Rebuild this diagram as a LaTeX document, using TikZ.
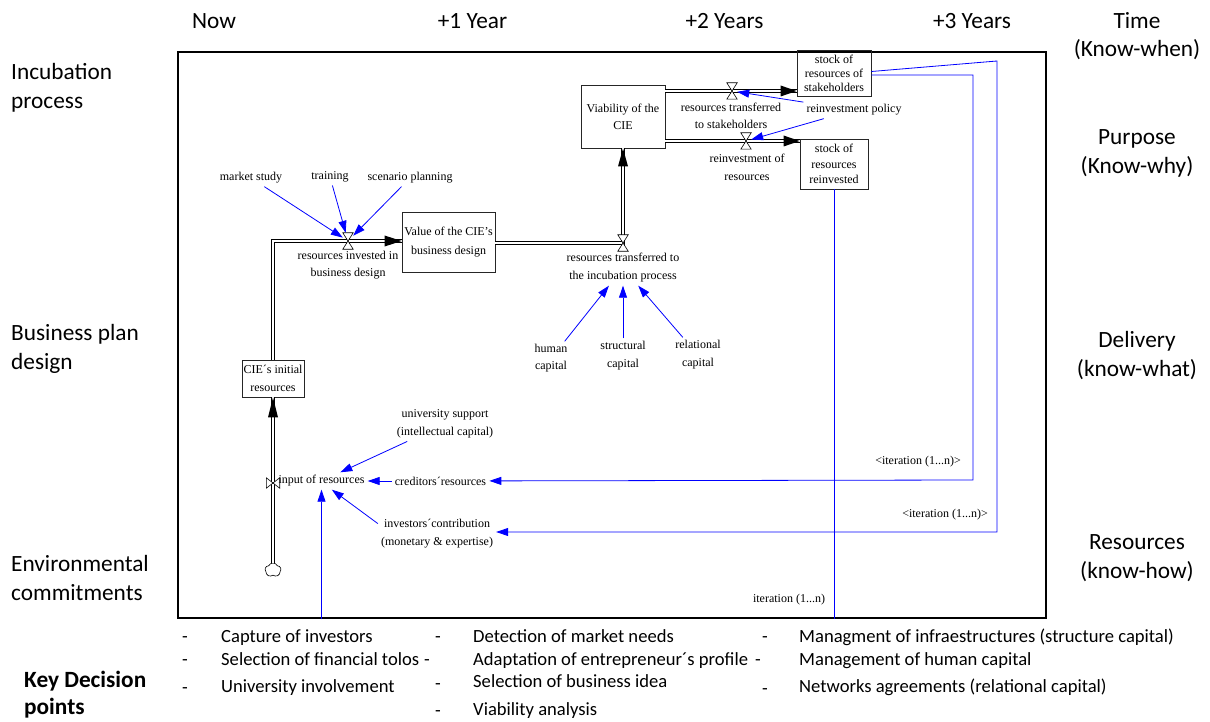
\documentclass[tikz,border=0pt]{standalone}
\usepackage{fontspec}
\setmainfont{Carlito}
\newfontfamily\vsim{Liberation Serif}
\usetikzlibrary{arrows.meta,shapes.symbols,calc}

% flow valves drawn over the pipes
\newcommand\drawhourglass[1]{\draw[valve] (#1.north west) -- (#1.north east) -- (#1.south west) -- (#1.south east) -- cycle;}
\newcommand\drawbowtie[1]{\draw[valve] (#1.north west) -- (#1.south east) -- (#1.north east) -- (#1.south west) -- cycle;}

\begin{document}
\begin{tikzpicture}[x=1pt,y=-1pt,
  hdr/.style={font=\fontsize{23.3}{28}\selectfont, inner sep=0pt},
  lst/.style={font=\fontsize{18.6}{22}\selectfont, inner sep=0pt, anchor=base west},
  lbl/.style={font=\vsim\fontsize{12}{17}\selectfont, align=center, inner sep=3pt},
  stockbox/.style={draw=black!85, line width=0.8pt, align=center, inner sep=0pt},
  pipe/.style={draw=black, line width=0.8pt, double=white, double distance=2.2pt},
  valve/.style={draw=black, fill=white, line width=0.6pt, line join=miter},
  vlv/.style={inner sep=0pt, minimum width=10pt, minimum height=16pt},
  headfill/.style={fill=black},
  infl/.style={draw=blue, line width=0.8pt, -{Triangle[length=12pt,width=8pt]}},
  iterline/.style={draw=blue, line width=0.8pt},
]
\useasboundingbox (0,0) rectangle (1210,722);

% ---- column headers ----
\node[hdr, anchor=base] (hnow) at (214,29) {Now};
\node[hdr, anchor=base] (hy1) at (472.5,29) {+1 Year};
\node[hdr, anchor=base] (hy2) at (724.5,29) {+2 Years};
\node[hdr, anchor=base] (hy3) at (972,29) {+3 Years};
\node[hdr, anchor=base] (htime) at (1137,29) {Time};
\node[hdr, anchor=base] (htime2) at (1137,57) {(Know-when)};

% ---- row labels (left) ----
\node[hdr, anchor=base west] (l1a) at (11,80) {Incubation};
\node[hdr, anchor=base west] (l1b) at (11,109) {process};
\node[hdr, anchor=base west] (l2a) at (11,340) {Business plan};
\node[hdr, anchor=base west] (l2b) at (11,369) {design};
\node[hdr, anchor=base west] (l3a) at (11,571) {Environmental};
\node[hdr, anchor=base west] (l3b) at (11,600) {commitments};

% ---- row labels (right) ----
\node[hdr, anchor=base] (r1a) at (1137,145) {Purpose};
\node[hdr, anchor=base] (r1b) at (1137,174) {(Know-why)};
\node[hdr, anchor=base] (r2a) at (1137,347) {Delivery};
\node[hdr, anchor=base] (r2b) at (1137,376) {(know-what)};
\node[hdr, anchor=base] (r3a) at (1137,549) {Resources};
\node[hdr, anchor=base] (r3b) at (1137,578) {(know-how)};

% ---- model frame ----
\node[draw, line width=2.6pt, minimum width=868pt, minimum height=566pt, inner sep=0pt] (frame) at (612,335) {};

% ---- stocks ----
\node[stockbox, minimum width=62pt, minimum height=37pt, font=\vsim\fontsize{12}{18}\selectfont] (cie) at (273,378.5) {CIE´s initial\\resources};
\node[stockbox, minimum width=93pt, minimum height=60pt, font=\vsim\fontsize{12}{19}\selectfont] (val) at (448.5,242) {Value of the CIE’s\\business design};
\node[stockbox, minimum width=84pt, minimum height=63pt, font=\vsim\fontsize{12}{17}\selectfont] (via) at (623,116.5) {Viability of the\\CIE};
\node[stockbox, minimum width=74pt, minimum height=46pt, font=\vsim\fontsize{12}{14}\selectfont] (stk) at (834,73) {stock of\\resources of\\stakeholders};
\node[stockbox, minimum width=68pt, minimum height=50pt, font=\vsim\fontsize{12}{15.5}\selectfont] (rei) at (834,164) {stock of\\resources\\reinvested};

% ---- valves and source cloud ----
\node[vlv] (v1) at (348,241) {};
\node[vlv] (v2) at (623,243) {};
\node[vlv] (v3) at (732,91) {};
\node[vlv] (v4) at (746,141) {};
\node[inner sep=0pt, minimum width=13pt, minimum height=10pt] (v0) at (273,483) {};
\node[cloud, draw, cloud puffs=5, cloud puff arc=130, aspect=1.1, minimum width=16pt, minimum height=14pt, inner sep=0pt, line width=0.6pt, fill=white] (src) at (273,570) {};

% ---- flow pipes ----
\draw[pipe] (src.north) -- (cie.south);
\draw[pipe] (cie.north) -- (cie.north |- v1) -- (val.west |- v1);
\draw[pipe] (val.east |- v2) -- (v2.center) -- (via.south);
\draw[pipe] (via.east |- v3) -- (stk.west |- v3);
\draw[pipe] (via.east |- v4) -- (rei.west |- v4);

\drawhourglass{v1}
\drawhourglass{v2}
\drawhourglass{v3}
\drawhourglass{v4}
\drawbowtie{v0}

% pipe heads
\fill[headfill] (cie.south) -- ++(-5,20) -- ++(10,0) -- cycle;
\fill[headfill] (val.west |- v1) -- ++(-17,-5.5) -- ++(0,11) -- cycle;
\fill[headfill] (via.south) -- ++(-5,18) -- ++(10,0) -- cycle;
\fill[headfill] (stk.west |- v3) -- ++(-16,-5.5) -- ++(0,11) -- cycle;
\fill[headfill] (rei.west |- v4) -- ++(-16,-5.5) -- ++(0,11) -- cycle;

% ---- flow names and auxiliaries ----
\node[lbl] (rib) at (348,265.5) {resources invested in\\business design};
\node[lbl, font=\vsim\fontsize{12}{18}\selectfont] (rti) at (623,268) {resources transferred to\\the incubation process};
\node[lbl] (rts) at (731,115.5) {resources transferred\\to stakeholders};
\node[lbl, font=\vsim\fontsize{12}{18}\selectfont] (ror) at (747,167) {reinvestment of\\resources};
\node[lbl] (pol) at (854,110) {reinvestment policy};
\node[lbl] (mkt) at (251,178) {market study};
\node[lbl] (trn) at (330,177) {training};
\node[lbl] (scn) at (410,178) {scenario planning};
\node[lbl] (hum) at (551,358.5) {human\\capital};
\node[lbl, font=\vsim\fontsize{12}{18}\selectfont] (stc) at (623,356) {structural\\capital};
\node[lbl, font=\vsim\fontsize{12}{18}\selectfont] (rel) at (698,355) {relational\\capital};
\node[lbl, font=\vsim\fontsize{12}{18}\selectfont] (uni) at (445,424) {university support\\(intellectual capital)};
\node[lbl] (inp) at (321.5,481) {input of resources};
\node[lbl] (cre) at (440.5,481) {creditors´resources};
\node[lbl, font=\vsim\fontsize{12}{18}\selectfont] (inv) at (437,534) {investors´contribution\\(monetary \& expertise)};
\node[lbl] (it1) at (918,462) {<iteration (1...n)>};
\node[lbl] (it2) at (945,515) {<iteration (1...n)>};
\node[lbl] (it3) at (789,600) {iteration (1...n)};

% ---- influence links ----
\draw[infl] (mkt) -- (v1);
\draw[infl] (trn) -- (v1);
\draw[infl] (scn) -- (v1);
\draw[infl] (pol) -- (v3);
\draw[infl] (pol) -- (v4);
\draw[infl] (hum) -- (rti);
\draw[infl] (stc) -- (rti);
\draw[infl] (rel) -- (rti);
\draw[infl] (uni) -- (inp);
\draw[infl] (cre) -- (inp);
\draw[infl] (inv.170) -- (inp.-40);
\draw[infl] (inp.south |- frame.south) -- (inp.south);

% ---- iteration feedback lines ----
\coordinate (c1) at (973,75);
\coordinate (c2) at (973,480);
\coordinate (c3) at (997,61);
\coordinate (c4) at (997,532);
\draw[infl] ($(stk.east)+(0,2)$) -- (c1) -- (c2) -- (cre);
\draw[infl] ($(stk.east)+(0,-1.5)$) -- (c3) -- (c4) -- (inv.east |- c4);
\draw[iterline] (rei.south) -- (rei.south |- frame.south);

% ---- key decision points ----
\node[anchor=base west, font=\bfseries\fontsize{23.3}{28}\selectfont, inner sep=0pt] (kd1) at (24,687) {Key Decision};
\node[anchor=base west, font=\bfseries\fontsize{23.3}{28}\selectfont, inner sep=0pt] (kd2) at (24,714) {points};

\node[lst] (d11) at (182,642) {-};
\node[lst] (d12) at (182,665) {-};
\node[lst] (d13) at (182,693) {-};
\node[lst] (k11) at (221,642) {Capture of investors};
\node[lst] (k12) at (221,665) {Selection of financial tolos};
\node[lst] (k13) at (221,692) {University involvement};

\node[lst] (d21) at (435,642) {-};
\node[lst] (d22) at (424,665) {-};
\node[lst] (d23) at (435,689) {-};
\node[lst] (d24) at (435,716) {-};
\node[lst] (k21) at (473,642) {Detection of market needs};
\node[lst] (k22) at (473,665) {Adaptation of entrepreneur´s profile};
\node[lst] (k23) at (473,687) {Selection of business idea};
\node[lst] (k24) at (473,715) {Viability analysis};

\node[lst] (d31) at (762,642) {-};
\node[lst] (d32) at (755,665) {-};
\node[lst] (d33) at (762,694) {-};
\node[lst] (k31) at (799,642) {Managment of infraestructures (structure capital)};
\node[lst] (k32) at (799,665) {Management of human capital};
\node[lst] (k33) at (799,692) {Networks agreements (relational capital)};
\end{tikzpicture}
\end{document}
